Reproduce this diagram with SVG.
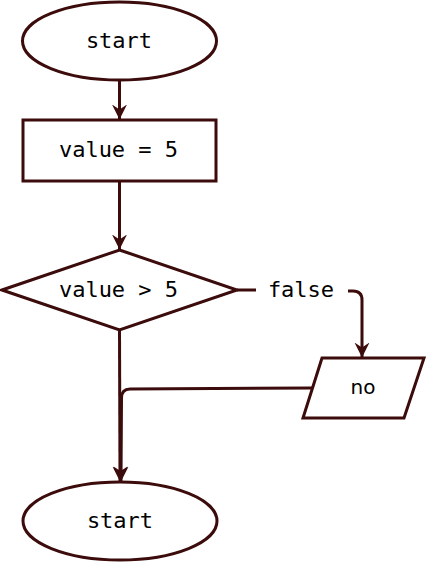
<svg xmlns="http://www.w3.org/2000/svg" width="426" height="564" viewBox="0 0 426 564">
  <style>
    .shape { fill: #ffffff; stroke: #3c0b0b; stroke-width: 3; }
    .edge { fill: none; stroke: #3c0b0b; stroke-width: 3; }
    .label { font-family: "DejaVu Sans Mono", "Liberation Mono", monospace; font-size: 22px; fill: #000000; text-anchor: middle; }
    .sans { font-family: "DejaVu Sans", "Liberation Sans", sans-serif; font-size: 20px; }
  </style>
  <defs>
    <marker id="arrow" viewBox="0 0 15 16" refX="14.5" refY="8" markerWidth="15" markerHeight="16" markerUnits="userSpaceOnUse" orient="auto">
      <path d="M0,0.5 L15,8 L0,15.5 L5,8 Z" fill="#3c0b0b"/>
    </marker>
  </defs>

  <g id="edges">
    <path class="edge" d="M119.5,80 L119.5,119" marker-end="url(#arrow)"/>
    <path class="edge" d="M119.5,181 L119.5,249" marker-end="url(#arrow)"/>
    <path class="edge" d="M237,290 L256,290"/>
    <path class="edge" d="M348,291 L353,291 Q362,291 362,300 L362,357" marker-end="url(#arrow)"/>
    <path class="edge" d="M119.5,330 L120,481" marker-end="url(#arrow)"/>
    <path class="edge" d="M312,388 L130,389 Q121.5,389 121.5,398 L121,481" marker-end="url(#arrow)"/>
  </g>

  <g id="start-top">
    <ellipse class="shape" cx="119.5" cy="41" rx="97" ry="39"/>
    <text class="label" x="119" y="48">start</text>
  </g>

  <g id="assign">
    <rect class="shape" x="23" y="120" width="193" height="61"/>
    <text class="label" x="118.5" y="157">value = 5</text>
  </g>

  <g id="check">
    <polygon class="shape" points="119.5,250 237,290 119.5,330 2,290"/>
    <text class="label" x="118.5" y="297">value &gt; 5</text>
  </g>

  <g id="false-label">
    <text class="label" x="301" y="297">false</text>
  </g>

  <g id="no">
    <polygon class="shape" points="322,358 424,358 404,418 303,418"/>
    <text class="label sans" x="363" y="394">no</text>
  </g>

  <g id="start-bottom">
    <ellipse class="shape" cx="120" cy="521" rx="97" ry="39"/>
    <text class="label" x="120" y="528">start</text>
  </g>
</svg>
